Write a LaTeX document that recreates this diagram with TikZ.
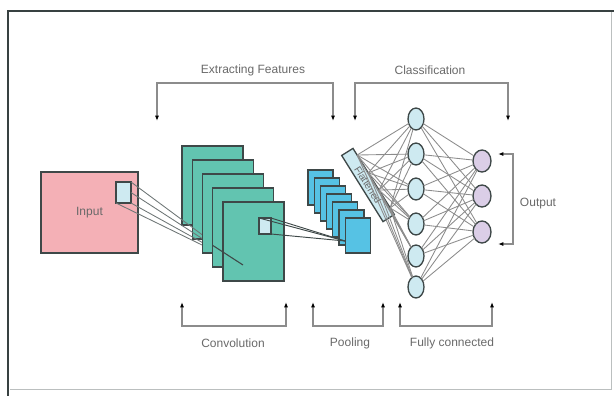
\documentclass[tikz,border=0pt]{standalone}
\usepackage{fontspec}
\setmainfont{Liberation Sans}
\usepackage{xcolor}
\definecolor{inpink}{RGB}{244,176,182}
\definecolor{convteal}{RGB}{98,196,176}
\definecolor{poolblue}{RGB}{86,194,228}
\definecolor{cellblue}{RGB}{206,234,241}
\definecolor{outlilac}{RGB}{219,206,231}
\definecolor{rimgray}{RGB}{62,72,72}
\definecolor{wiregray}{RGB}{140,140,140}
\definecolor{labelgray}{RGB}{105,105,105}
\usepackage{tikz}
\usetikzlibrary{shapes.geometric}
\usetikzlibrary{arrows.meta}
\usetikzlibrary{calc}

\begin{document}
\begin{tikzpicture}[x=0.75pt,y=-0.75pt,
  every node/.style={inner sep=0pt,outer sep=0pt,font=\fontsize{9}{10}\selectfont,text=labelgray},
  sheet/.style={rectangle,draw=rimgray,line width=1pt},
  convmap/.style={sheet,fill=convteal,minimum width=45.75pt,minimum height=59.25pt},
  poolmap/.style={sheet,fill=poolblue,minimum width=18.75pt,minimum height=26.25pt},
  patch/.style={sheet,fill=cellblue},
  neuron/.style={ellipse,draw=rimgray,line width=1pt,fill=cellblue,minimum width=12pt,minimum height=16.5pt},
  outneuron/.style={neuron,fill=outlilac,minimum width=13.5pt},
  wire/.style={draw=wiregray,line width=0.65pt},
  bracket/.style={draw=wiregray,line width=0.8pt,arrows={Latex[black,length=4pt,width=3pt]-Latex[black,length=4pt,width=3pt]}}]
\useasboundingbox (0,0) rectangle (614,396);
\draw[rimgray!35,line width=0.5pt] (10,389) -- (611,389) -- (611,12);
\draw[rimgray!90!black,line width=1.6pt] (8,396) -- (8,11) -- (614,11);

\node[sheet,fill=inpink,minimum width=72.75pt,minimum height=60.75pt] (input) at (89.5,212.5) {Input};
\node[patch,minimum width=11.25pt,minimum height=15.75pt] (in patch) at (123.5,192.5) {};

\foreach \i in {1,2}
  \node[convmap] (conv\i) at ({212.5+10.25*(\i-1)},{185.5+14*(\i-1)}) {};
\coordinate (conv focus) at (243,265);
\foreach \a in {north east,east,south east,south west}
  \draw[wire,draw=rimgray!75] (in patch.\a) -- (conv focus);
\foreach \i in {3,4,5}
  \node[convmap] (conv\i) at ({212.5+10.25*(\i-1)},{185.5+14*(\i-1)}) {};
\draw[rimgray,line width=0.8pt] ($(in patch.east)!0.73!(conv focus)$) -- (conv focus);
\node[patch,minimum width=9pt,minimum height=12pt] (conv patch) at (265,226) {};

\foreach \i in {1,...,7}
  \node[poolmap] (pool\i) at ({320.5+6.2*(\i-1)},{187.5+8*(\i-1)}) {};
\coordinate (pool focus) at (345,241);
\foreach \a in {north west,north east,south east}
  \draw[rimgray,line width=0.7pt] (conv patch.\a) -- (pool focus);

\node[sheet,fill=cellblue,rotate=-58,minimum width=58.5pt,minimum height=10pt,font=\fontsize{7.5}{8}\selectfont] (flat) at (368,185) {Flattened};

\foreach \y [count=\i] in {119,154,189,224,256,287}
  \node[neuron] (h\i) at (416,\y) {};
\foreach \y [count=\i] in {161,196,232}
  \node[outneuron] (o\i) at (482,\y) {};

\foreach \t in {0.1,0.37,0.63,0.9}
  \foreach \i in {1,...,6}
    \draw[wire] ($(flat.north west)!\t!(flat.north east)$) -- (h\i);
\foreach \i in {1,...,6}
  \foreach \j in {1,2,3}
    \draw[wire] (h\i) -- (o\j);

% stages above
\node (extract) at (253,70) {Extracting Features};
\node (classify) at (430,70) {Classification};
\coordinate (top bar) at (0,83);
\coordinate (ef west) at (157,121);
\coordinate (ef east) at (333,121);
\coordinate (cl west) at (355,121);
\coordinate (cl east) at (508,121);
\draw[bracket] (ef west) |- (ef east |- top bar) -- (ef east);
\draw[bracket] (cl west) |- (cl east |- top bar) -- (cl east);

% layers below
\node (convolution) at (233,343) {Convolution};
\node (pooling) at (350,343) {Pooling};
\node (fully) at (452,343) {Fully connected};
\coordinate (bottom bar) at (0,326);
\coordinate (cv west) at (182,302);
\coordinate (cv east) at (286,302);
\coordinate (pl west) at (313,302);
\coordinate (pl east) at (383,302);
\coordinate (fc west) at (400,302);
\coordinate (fc east) at (492,302);
\draw[bracket] (cv west) |- (cv east |- bottom bar) -- (cv east);
\draw[bracket] (pl west) |- (pl east |- bottom bar) -- (pl east);
\draw[bracket] (fc west) |- (fc east |- bottom bar) -- (fc east);

\node (output) at (538,204) {Output};
\coordinate (out top) at (498,154);
\coordinate (out bottom) at (498,244);
\coordinate (side bar) at (513,0);
\draw[bracket] (out top) -| (side bar |- out bottom) -- (out bottom);
\end{tikzpicture}
\end{document}
